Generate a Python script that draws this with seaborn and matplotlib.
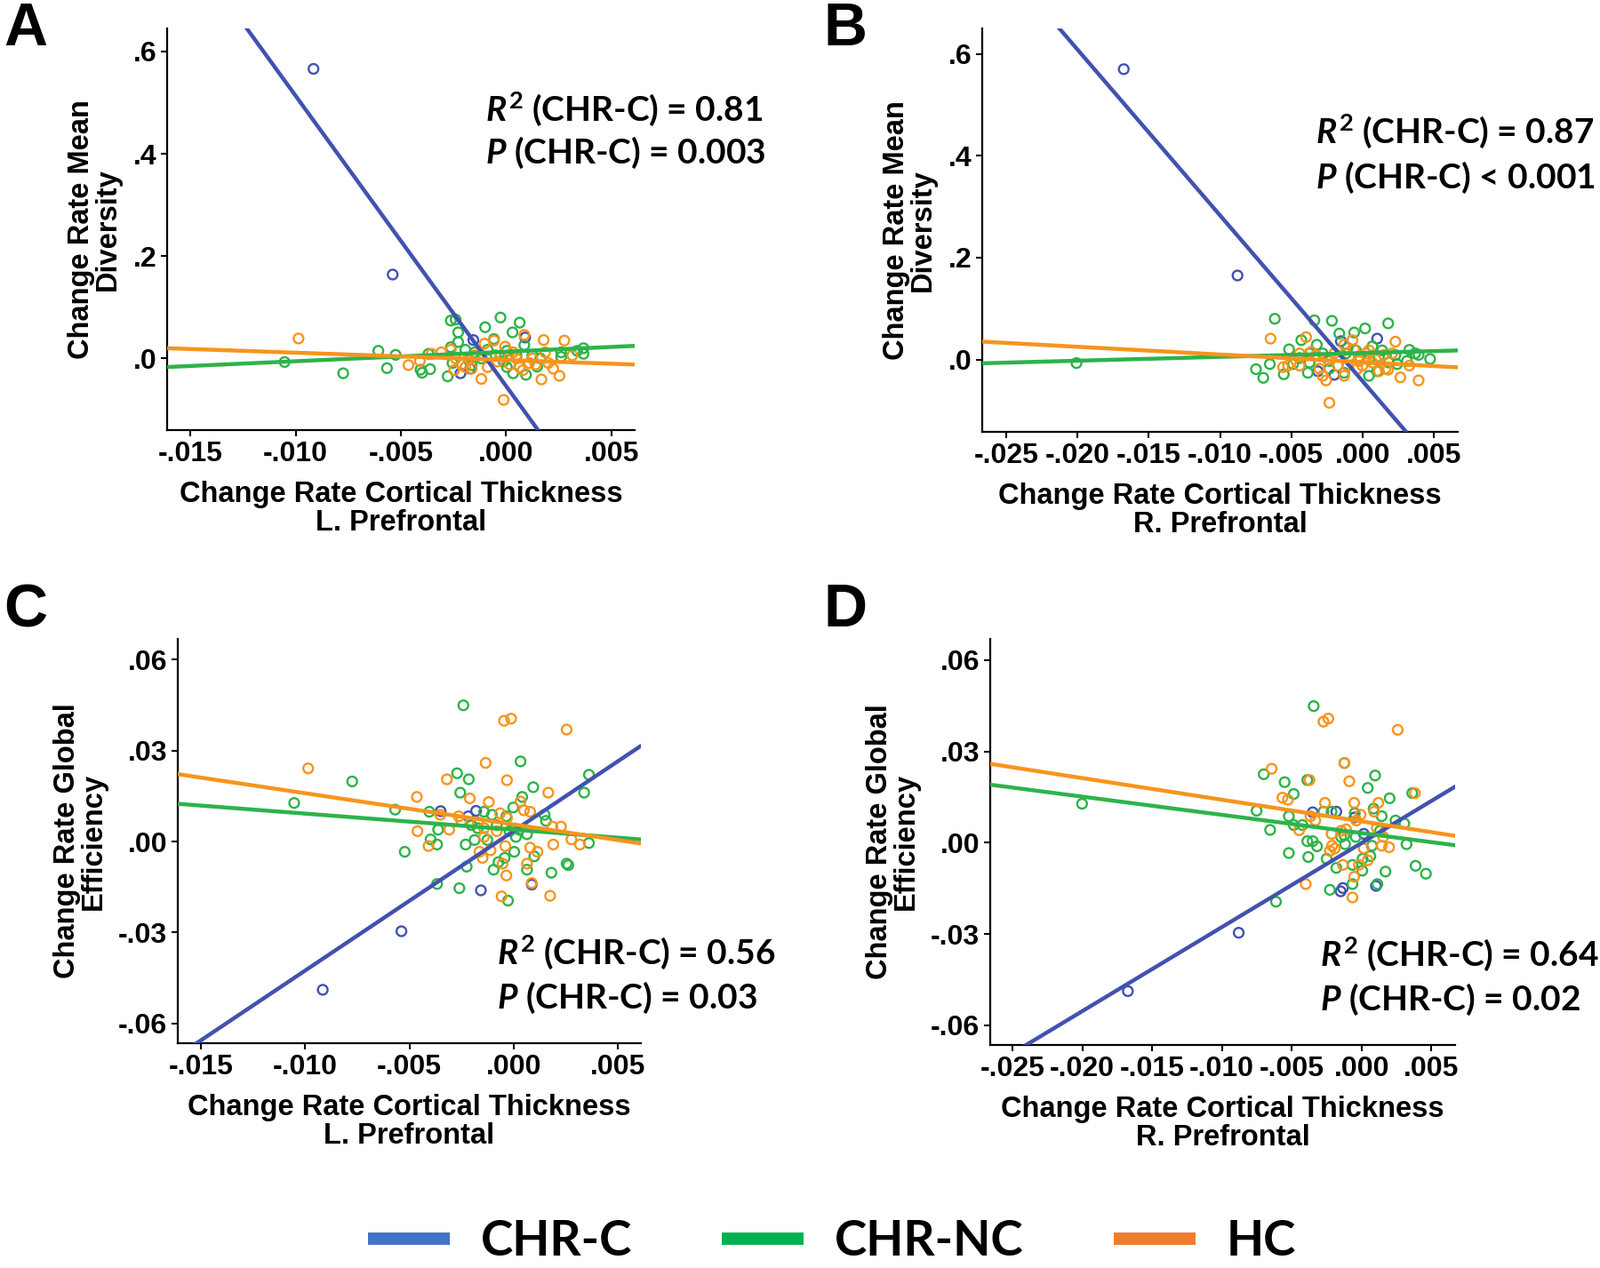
import matplotlib
matplotlib.use("Agg")
import matplotlib.pyplot as plt
from matplotlib.lines import Line2D
import seaborn as sns

sns.set_style("ticks")
plt.rcParams['font.family'] = ['Liberation Sans', 'DejaVu Sans']
plt.rcParams['font.weight'] = 'bold'
plt.rcParams['text.color'] = 'black'
plt.rcParams['axes.labelcolor'] = 'black'
plt.rcParams['xtick.color'] = 'black'
plt.rcParams['ytick.color'] = 'black'
plt.rcParams['mathtext.fontset'] = 'custom'
plt.rcParams['mathtext.it'] = 'Lato:italic:bold'
plt.rcParams['mathtext.rm'] = 'Lato:bold'
plt.rcParams['mathtext.bf'] = 'Lato:bold'

groups = ['CHR-C', 'CHR-NC', 'HC']
line_colors = ['#4152B0', '#2DB34A', '#F7941D']
legend_colors = ['#4472C4', '#00B050', '#ED7D31']

# ---- tick labels ----
left_ticks = [-0.015, -0.010, -0.005, 0.0, 0.005]
left_labels = ['-.015', '-.010', '-.005', '.000', '.005']
right_ticks = [-0.025, -0.020, -0.015, -0.010, -0.005, 0.0, 0.005]
right_labels = ['-.025', '-.020', '-.015', '-.010', '-.005', '.000', '.005']
md_ticks = [0.0, 0.2, 0.4, 0.6]
md_labels = ['.0', '.2', '.4', '.6']
ge_ticks = [-0.06, -0.03, 0.0, 0.03, 0.06]
ge_labels = ['-.06', '-.03', '.00', '.03', '.06']

# ---- panel A: L. prefrontal thickness vs mean diversity ----
a_blue_x = [-0.00915, -0.00539, -0.00156, 0.00090, -0.00217, -0.00171]
a_blue_y = [0.566, 0.164, 0.036, 0.041, -0.029, -0.020]
a_green_x = [-0.01052, -0.00774, -0.00607, -0.00566, -0.00525, -0.00407, -0.00399, -0.00361,
             -0.00369, -0.00278, -0.00263, -0.00240, -0.00228, -0.00228, -0.00263, -0.00255,
             -0.00194, -0.00179, -0.00164, -0.00149, -0.00100, -0.00058, -0.00027, 0.00030,
             0.00064, 0.00086, 0.00094, 0.00033, 0.00003, 0.00147, 0.00162, 0.00261,
             0.00261, 0.00337, 0.00367, 0.00367, -0.00118, -0.00088, -0.00050, -0.00012,
             0.00003, 0.00049, 0.00124]
a_green_y = [-0.007, -0.029, 0.015, -0.019, 0.007, -0.022, -0.028, -0.021,
             0.009, -0.035, 0.074, 0.076, 0.051, 0.032, 0.022, -0.009,
             0.017, -0.003, -0.013, 0.012, 0.061, 0.038, 0.080, 0.051,
             0.070, 0.026, -0.032, -0.029, -0.017, -0.016, 0.000, 0.012,
             0.003, 0.015, 0.020, 0.009, 0.000, 0.017, 0.006, -0.006,
             0.015, 0.006, 0.006]
a_orange_x = [-0.00986, -0.00464, -0.00410, -0.00354, -0.00308, -0.00263, -0.00247, -0.00209,
              -0.00179, -0.00164, -0.00118, -0.00103, -0.00058, -0.00012, -0.00005, 0.00033,
              0.00049, 0.00064, 0.00086, 0.00109, 0.00178, 0.00185, 0.00167, 0.00223,
              0.00253, 0.00276, 0.00314, -0.00240, -0.00194, -0.00149, -0.00088, -0.00042,
              -0.00027, 0.00018, 0.00079, 0.00124, 0.00140, 0.00200]
a_orange_y = [0.039, -0.013, -0.005, 0.009, 0.012, 0.017, -0.023, -0.012,
              0.000, -0.020, -0.040, 0.029, 0.035, -0.081, 0.023, 0.012,
              0.000, -0.017, 0.046, -0.009, 0.036, 0.012, -0.041, -0.020,
              -0.034, 0.035, 0.006, 0.000, -0.017, 0.006, -0.017, -0.006,
              0.006, -0.012, -0.023, 0.000, -0.012, -0.009]

# ---- panel B: R. prefrontal thickness vs mean diversity ----
b_blue_x = [-0.01676, -0.00877, -0.00151, 0.00104, -0.00313, -0.00197]
b_blue_y = [0.570, 0.165, 0.036, 0.041, -0.023, -0.030]
b_green_x = [-0.02008, -0.00747, -0.00696, -0.00650, -0.00615, -0.00552, -0.00515, -0.00487,
             -0.00429, -0.00383, -0.00371, -0.00337, -0.00320, -0.00371, -0.00279, -0.00232,
             -0.00214, -0.00162, -0.00128, -0.00116, -0.00058, -0.00023, 0.00019, 0.00046,
             0.00070, 0.00104, 0.00116, 0.00139, 0.00181, 0.00186, 0.00244, 0.00313,
             0.00330, 0.00371, 0.00395, 0.00476, -0.00046, 0.00046, 0.00232, -0.00232,
             -0.00441, -0.00104]
b_green_y = [-0.007, -0.019, -0.036, -0.009, 0.080, -0.029, 0.020, -0.009,
             0.038, -0.026, -0.006, 0.077, 0.029, 0.012, 0.012, -0.018,
             0.076, 0.051, -0.026, 0.012, 0.053, 0.006, 0.061, -0.032,
             0.026, -0.023, 0.006, 0.018, 0.071, -0.006, -0.009, -0.003,
             0.019, 0.012, 0.009, 0.001, 0.018, 0.000, 0.009, -0.003,
             0.003, 0.023]
b_orange_x = [-0.00645, -0.00557, -0.00522, -0.00441, -0.00395, -0.00360, -0.00325, -0.00302,
              -0.00279, -0.00255, -0.00232, -0.00197, -0.00162, -0.00128, -0.00104, -0.00070,
              -0.00058, -0.00023, 0.00000, 0.00023, 0.00046, 0.00070, 0.00116, 0.00151,
              0.00209, 0.00232, 0.00267, 0.00395, -0.00093, -0.00035, 0.00093, 0.00162,
              -0.00174, -0.00244, -0.00441, -0.00128, 0.00180, 0.00330]
b_orange_y = [0.041, -0.015, -0.012, 0.012, 0.044, 0.015, 0.009, -0.018,
              -0.032, -0.041, -0.085, 0.012, 0.006, 0.029, -0.012, 0.038,
              0.020, -0.003, -0.012, 0.012, 0.018, -0.006, -0.023, 0.009,
              0.012, 0.035, -0.035, -0.041, 0.006, -0.018, 0.000, -0.018,
              -0.012, 0.000, -0.012, -0.032, -0.020, -0.012]

# ---- panel C: L. prefrontal thickness vs global efficiency ----
c_blue_x = [-0.00915, -0.00538, -0.00157, 0.00087, -0.00180, -0.00218, -0.00350]
c_blue_y = [-0.0489, -0.0296, -0.0161, -0.0142, 0.0101, 0.0083, 0.0100]
c_green_x = [-0.01052, -0.00774, -0.00568, -0.00522, -0.00404, -0.00398, -0.00367, -0.00362,
             -0.00367, -0.00271, -0.00256, -0.00260, -0.00230, -0.00225, -0.00241, -0.00215,
             -0.00187, -0.00203, -0.00172, -0.00142, -0.00104, -0.00096, -0.00073, -0.00043,
             -0.00027, -0.00020, -0.00002, 0.00003, 0.00011, 0.00033, 0.00041, 0.00064,
             0.00064, 0.00094, 0.00099, 0.00148, 0.00155, 0.00181, 0.00254, 0.00262,
             0.00338, 0.00361, 0.00361, -0.00035, -0.00081, 0.00026, -0.00126]
c_green_y = [0.0127, 0.0198, 0.0105, -0.0034, 0.0098, 0.0007, -0.0010, 0.0039,
             -0.0140, 0.0225, 0.0161, -0.0154, -0.0010, -0.0083, 0.0449, 0.0205,
             0.0005, 0.0054, 0.0044, 0.0098, 0.0088, -0.0093, -0.0068, -0.0054,
             -0.0195, 0.0034, 0.0112, -0.0034, 0.0015, 0.0264, 0.0147, 0.0024,
             -0.0093, 0.0179, -0.0049, 0.0088, 0.0068, -0.0103, -0.0073, -0.0078,
             0.0161, 0.0220, -0.0005, 0.0083, 0.0054, 0.0039, 0.0005]
c_orange_x = [-0.00985, -0.00464, -0.00461, -0.00408, -0.00352, -0.00320, -0.00309, -0.00263,
              -0.00251, -0.00210, -0.00172, -0.00164, -0.00149, -0.00142, -0.00134, -0.00119,
              -0.00111, -0.00065, -0.00058, -0.00053, -0.00046, -0.00040, -0.00035, -0.00032,
              -0.00032, -0.00012, 0.00033, 0.00049, 0.00064, 0.00079, 0.00079, 0.00087,
              0.00114, 0.00166, 0.00175, 0.00186, 0.00190, 0.00227, 0.00254, 0.00277,
              0.00318, -0.00142, -0.00081]
c_orange_y = [0.0241, 0.0147, 0.0034, -0.0015, 0.0088, 0.0205, 0.0039, 0.0083,
              0.0068, 0.0142, 0.0063, -0.0034, -0.0054, 0.0015, 0.0259, 0.0130,
              -0.0029, 0.0093, -0.0181, -0.0073, 0.0398, -0.0015, -0.0112, 0.0202,
              0.0078, 0.0405, 0.0132, 0.0103, -0.0073, -0.0020, 0.0098, -0.0137,
              -0.0034, 0.0161, -0.0179, 0.0049, -0.0010, 0.0049, 0.0369, 0.0007,
              -0.0010, 0.0044, 0.0034]

# ---- panel D: R. prefrontal thickness vs global efficiency ----
d_blue_x = [-0.01674, -0.00880, -0.00150, 0.00103, -0.00181, 0.00016, -0.00050, -0.00350,
            -0.00134]
d_blue_y = [-0.0488, -0.0296, -0.0160, -0.0142, 0.0102, 0.0029, 0.0083, 0.0100,
            -0.0149]
d_green_x = [-0.02002, -0.00752, -0.00701, -0.00655, -0.00613, -0.00551, -0.00521, -0.00521,
             -0.00486, -0.00486, -0.00424, -0.00389, -0.00382, -0.00389, -0.00350, -0.00343,
             -0.00319, -0.00273, -0.00250, -0.00227, -0.00215, -0.00181, -0.00146, -0.00123,
             -0.00118, -0.00065, -0.00065, -0.00049, 0.00007, 0.00005, 0.00044, 0.00063,
             0.00074, 0.00086, 0.00097, 0.00113, 0.00144, 0.00171, 0.00201, 0.00243,
             0.00306, 0.00322, 0.00363, 0.00387, 0.00461, -0.00123, -0.00042, 0.00132]
d_green_y = [0.0128, 0.0105, 0.0225, 0.0042, -0.0194, 0.0199, -0.0034, 0.0087,
             0.0160, 0.0058, 0.0058, 0.0005, -0.0047, 0.0206, 0.0005, 0.0449,
             -0.0012, 0.0102, -0.0053, -0.0155, 0.0102, -0.0083, 0.0019, 0.0262,
             -0.0005, -0.0136, -0.0073, 0.0097, -0.0053, -0.0092, 0.0180, -0.0044,
             -0.0010, 0.0112, 0.0221, -0.0136, 0.0087, -0.0095, 0.0146, 0.0073,
             0.0063, -0.0005, 0.0163, -0.0076, -0.0102, 0.0024, 0.0019, 0.0039]
d_orange_x = [-0.00644, -0.00567, -0.00528, -0.00447, -0.00400, -0.00373, -0.00366, -0.00331,
              -0.00273, -0.00238, -0.00262, -0.00227, -0.00211, -0.00192, -0.00134, -0.00123,
              -0.00088, -0.00111, -0.00053, -0.00053, -0.00065, -0.00037, -0.00019, -0.00007,
              0.00016, 0.00044, 0.00090, 0.00120, 0.00144, 0.00197, 0.00259, 0.00382,
              -0.00215, -0.00146, 0.00109, 0.00155]
d_orange_y = [0.0243, 0.0148, 0.0141, 0.0041, -0.0136, 0.0206, 0.0087, 0.0073,
              0.0398, 0.0408, 0.0131, -0.0027, -0.0010, -0.0019, -0.0073, 0.0262,
              0.0202, 0.0044, 0.0131, -0.0112, -0.0180, 0.0073, -0.0073, 0.0092,
              -0.0019, -0.0058, 0.0102, 0.0131, -0.0010, -0.0015, 0.0371, 0.0163,
              0.0029, 0.0039, 0.0049, 0.0019]

fig = plt.figure(figsize=(18, 14.27), dpi=100)
W, H = 1800, 1427


def add_axes_px(x0, x1, top, bottom):
    # axes box given in pixel coordinates of the final image
    return fig.add_axes([x0 / W, 1 - bottom / H, (x1 - x0) / W, (bottom - top) / H])


def draw_panel(ax, data, xlim, ylim, xticks, xlabels, yticks, ylabels, xtitle, ytitle):
    ax.set_xlim(xlim)
    ax.set_ylim(ylim)
    for (gx, gy), col in zip(data, line_colors):
        sns.regplot(x=gx, y=gy, ax=ax, ci=None, truncate=False, color=col,
                    scatter_kws=dict(s=62, facecolors='none', linewidths=1.7, alpha=1, zorder=2),
                    line_kws=dict(lw=3.2, zorder=3))
    ax.set_xlim(xlim)
    ax.set_ylim(ylim)
    ax.set_xticks(xticks)
    ax.set_xticklabels(xlabels)
    ax.set_yticks(yticks)
    ax.set_yticklabels(ylabels)
    ax.tick_params(labelsize=23, width=1.5, length=5, color='black')
    for lab in ax.get_xticklabels() + ax.get_yticklabels():
        lab.set_fontweight('bold')
    ax.set_xlabel(xtitle, fontsize=23.5, fontweight='bold', linespacing=1.05, labelpad=11)
    ax.set_ylabel(ytitle, fontsize=23.5, fontweight='bold', linespacing=0.95, labelpad=9)
    sns.despine(ax=ax)
    for sp in ['left', 'bottom']:
        ax.spines[sp].set_linewidth(1.6)
        ax.spines[sp].set_color('black')


def stats_text(ax, xf, yf, r2, p):
    kw = dict(transform=ax.transAxes, fontsize=28, family='Lato', fontweight='bold',
              ha='left', va='center', clip_on=False)
    ax.text(xf, yf[0], r'$R^2$ (CHR-C) = ' + r2, **kw)
    ax.text(xf, yf[1], r'$P$ (CHR-C) ' + p, **kw)


md_title = 'Change Rate Mean\nDiversity'
ge_title = 'Change Rate Global\nEfficiency'
left_title = 'Change Rate Cortical Thickness\nL. Prefrontal'
right_title = 'Change Rate Cortical Thickness\nR. Prefrontal'

axA = add_axes_px(188, 714, 32, 484)
draw_panel(axA, [(a_blue_x, a_blue_y), (a_green_x, a_green_y), (a_orange_x, a_orange_y)],
           (-0.0161, 0.0061), (-0.14, 0.645), left_ticks, left_labels, md_ticks, md_labels,
           left_title, md_title)
stats_text(axA, 0.68, (0.80, 0.69), '0.81', '= 0.003')

axB = add_axes_px(1105, 1640, 32, 486)
draw_panel(axB, [(b_blue_x, b_blue_y), (b_green_x, b_green_y), (b_orange_x, b_orange_y)],
           (-0.0267, 0.0067), (-0.142, 0.650), right_ticks, right_labels, md_ticks, md_labels,
           right_title, md_title)
stats_text(axB, 0.70, (0.745, 0.63), '0.87', '< 0.001')

axC = add_axes_px(200, 721, 719, 1174)
draw_panel(axC, [(c_blue_x, c_blue_y), (c_green_x, c_green_y), (c_orange_x, c_orange_y)],
           (-0.0161, 0.0061), (-0.0665, 0.0668), left_ticks, left_labels, ge_ticks, ge_labels,
           left_title, ge_title)
stats_text(axC, 0.69, (0.225, 0.112), '0.56', '= 0.03')

axD = add_axes_px(1114, 1637, 719, 1176)
draw_panel(axD, [(d_blue_x, d_blue_y), (d_green_x, d_green_y), (d_orange_x, d_orange_y)],
           (-0.0266, 0.0067), (-0.0665, 0.067), right_ticks, right_labels, ge_ticks, ge_labels,
           right_title, ge_title)
stats_text(axD, 0.71, (0.225, 0.112), '0.64', '= 0.02')

# panel letters
for letter, (px, py) in zip('ABCD', [(4, 1), (926, 1), (4, 655), (926, 655)]):
    fig.text(px / W, 1 - py / H, letter, fontsize=49, fontweight='bold', ha='left', va='top')

# shared legend at the bottom
handles = [Line2D([], [], color=c, lw=10, solid_capstyle='butt') for c in legend_colors]
fig.legend(handles, groups, loc='center', bbox_to_anchor=(0.52, 0.021), ncol=3, frameon=False,
           prop={'family': 'Lato', 'weight': 'bold', 'size': 39.5},
           handlelength=1.68, handletextpad=0.63, columnspacing=1.85)

fig.savefig('out.png', dpi=100)
